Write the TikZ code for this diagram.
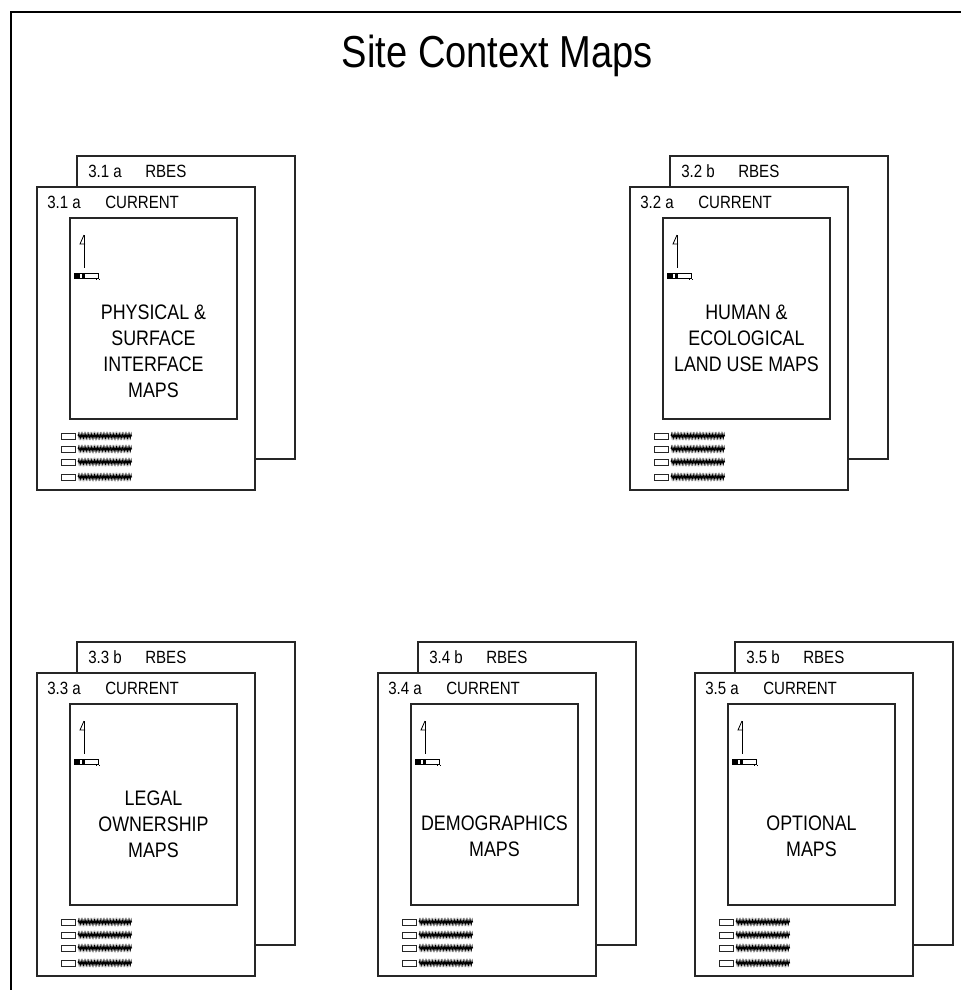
\documentclass[tikz,border=0pt]{standalone}
\usepackage{fontspec}
\setmainfont{Liberation Sans}
\newfontfamily\narrowsans[FakeStretch=0.85]{Liberation Sans}
\usetikzlibrary{positioning,decorations.pathmorphing}

\begin{document}
\begin{tikzpicture}[x=0.75pt,y=-0.75pt,
    sheet/.style={draw=black!85,line width=1pt,fill=white,minimum width=163.5pt,minimum height=227.25pt,inner sep=0pt,outer sep=0pt,anchor=north west},
    mapbox/.style={draw=black!85,line width=0.9pt,minimum width=125.25pt,minimum height=150.75pt,inner sep=0pt,outer sep=0pt,anchor=north west},
    tag/.style={font=\narrowsans\fontsize{13.3}{15}\selectfont,anchor=base west,inner sep=0pt},
    maptitle/.style={font=\narrowsans\fontsize{15.75}{19.5}\selectfont,align=center,inner sep=0pt},
    legendbox/.style={draw=black!85,line width=0.6pt},
    legendtext/.style={decorate,decoration={zigzag,segment length=1.1pt,amplitude=1.7pt},line width=0.5pt}]

  \useasboundingbox (0,0) rectangle (961,990);
  % frame and heading
  \draw[line width=2.2pt] (11,990) -- (11,12) -- (961,12);
  \node[font=\narrowsans\fontsize{33.6}{36}\selectfont,anchor=base,inner sep=0pt] (heading) at (497.5,67) {Site Context Maps};

  % one stack of map sheets per set
  \foreach \i/\px/\py/\fnum/\bnum/\title/\ty in {
      1/37/187/3.1 a/3.1 a/{PHYSICAL \&\\SURFACE\\INTERFACE\\MAPS}/164,
      2/630/187/3.2 a/3.2 b/{HUMAN \&\\ECOLOGICAL\\LAND USE MAPS}/151,
      3/37/673/3.3 a/3.3 b/{LEGAL\\OWNERSHIP\\MAPS}/151,
      4/378/673/3.4 a/3.4 b/{DEMOGRAPHICS\\MAPS}/163.5,
      5/695/673/3.5 a/3.5 b/{OPTIONAL\\MAPS}/163.5}{
    \node[sheet] (back\i) at (\px+40,\py-31) {};
    \node[tag] (backnum\i) at (\px+51,\py-10) {\bnum};
    \node[tag] (rbes\i) at (\px+108,\py-10) {RBES};
    \node[sheet] (front\i) at (\px,\py) {};
    \node[tag] (frontnum\i) at (\px+10,\py+21) {\fnum};
    \node[tag] (current\i) at (\px+68,\py+21) {CURRENT};
    \node[mapbox] (map\i) at (\px+33,\py+31) {};
    \node[maptitle] (title\i) at (\px+116.5,\py+\ty) {\title};
    % north arrow and scale bar
    \draw[line width=0.6pt] (\px+47,\py+48) -- (\px+47,\py+81);
    \draw[line width=0.6pt] (\px+47,\py+48) -- (\px+43,\py+57) -- (\px+48,\py+57);
    \draw[line width=0.6pt] (\px+37,\py+86) rectangle (\px+61,\py+91);
    \fill (\px+37,\py+86) rectangle (\px+43,\py+91);
    \fill (\px+45,\py+86) rectangle (\px+48,\py+92);
    \draw[line width=0.5pt,dotted] (\px+59,\py+92.5) -- (\px+64,\py+92.5);
    % legend
    \foreach \ly in {249,262,275,290}{
      \draw[legendbox] (\px+24,\py+\ly-3) rectangle (\px+38,\py+\ly+3);
      \draw[legendtext] (\px+41,\py+\ly) -- (\px+95,\py+\ly);
    }
  }
\end{tikzpicture}
\end{document}
